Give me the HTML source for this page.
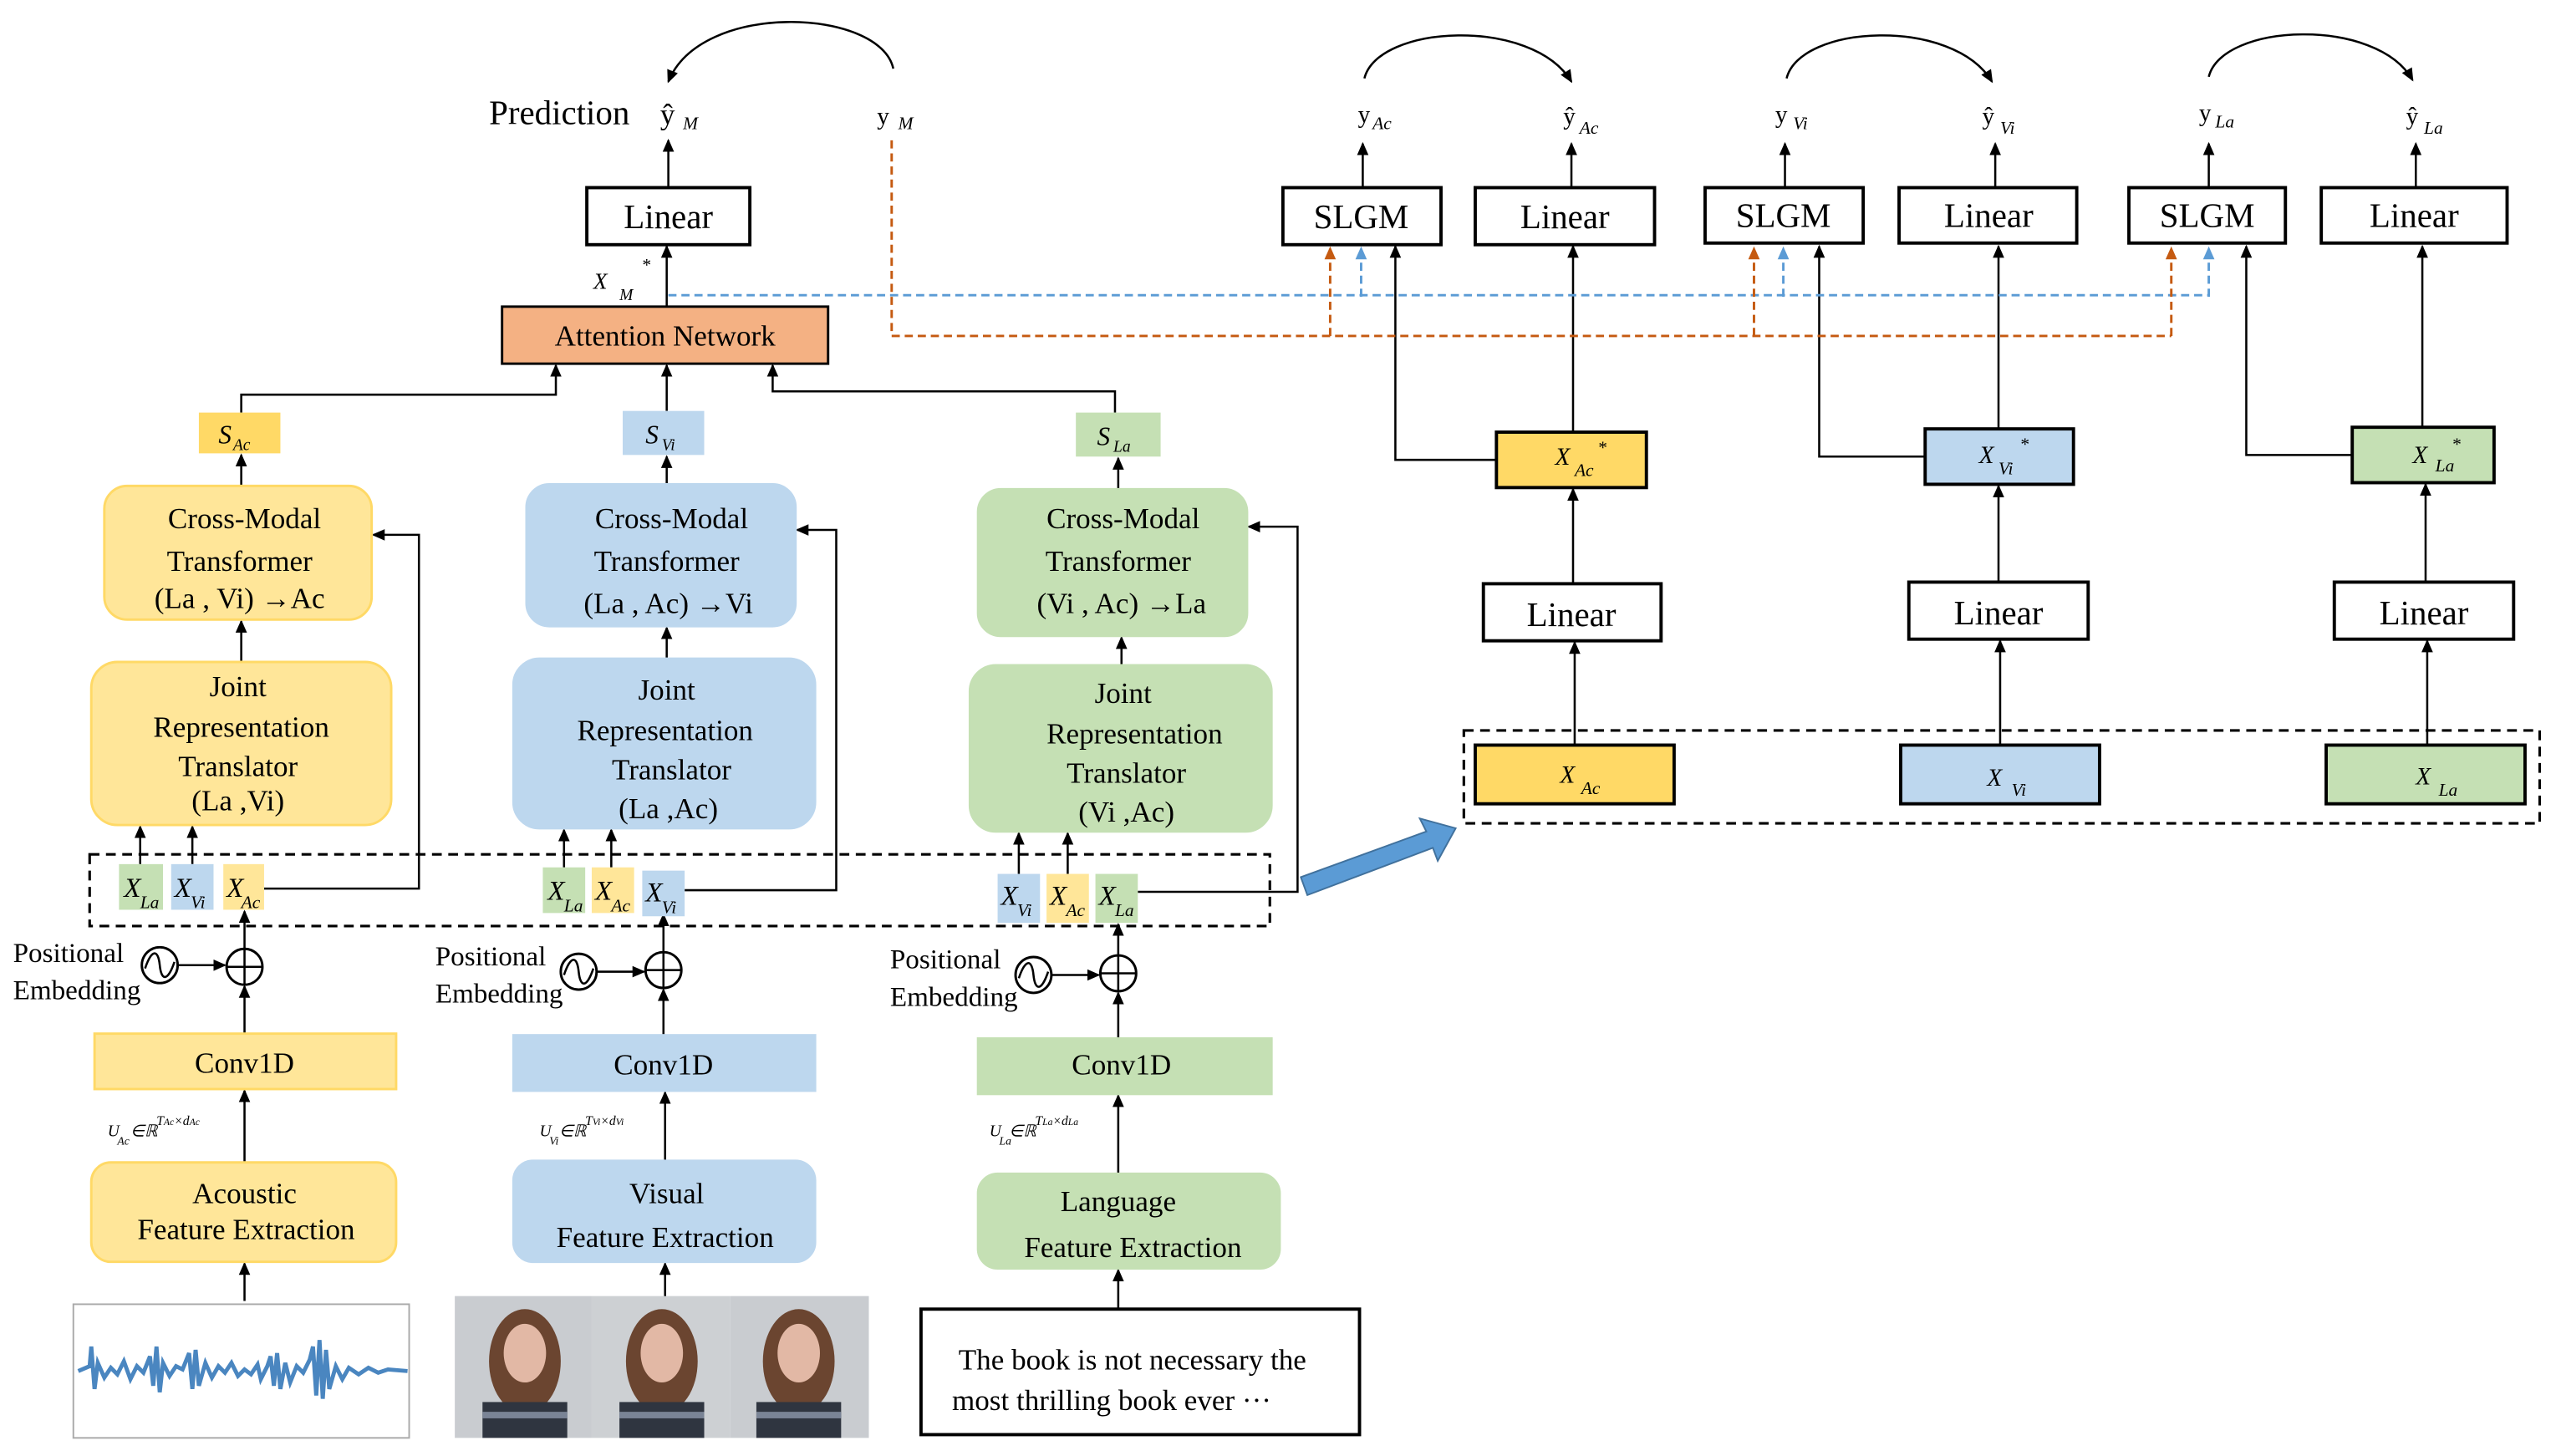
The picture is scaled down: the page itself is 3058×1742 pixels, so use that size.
<!DOCTYPE html>
<html><head><meta charset="utf-8"><style>
html,body{margin:0;padding:0;background:#fff;}
svg{display:block;}
text{font-family:"Liberation Serif",serif;fill:#000;}
</style></head><body>
<svg width="3058" height="1742" viewBox="0 0 1568 893" xmlns="http://www.w3.org/2000/svg">
<defs>
<marker id="a" markerWidth="8" markerHeight="8" refX="7" refY="4" orient="auto" markerUnits="userSpaceOnUse"><path d="M0,0.5 L8,4 L0,7.5 z" fill="#000"/></marker>
<marker id="ao" markerWidth="8" markerHeight="8" refX="7" refY="4" orient="auto" markerUnits="userSpaceOnUse"><path d="M0,0.5 L8,4 L0,7.5 z" fill="#C55A11"/></marker>
<marker id="ab" markerWidth="8" markerHeight="8" refX="7" refY="4" orient="auto" markerUnits="userSpaceOnUse"><path d="M0,0.5 L8,4 L0,7.5 z" fill="#5B9BD5"/></marker>
</defs>
<g stroke="#000" stroke-width="1.3" fill="none" marker-end="url(#a)">
<path d="M548,42 C540,5 430,0 410,50"/>
<path d="M837,48 C845,15 940,10 964,50"/>
<path d="M1096,48 C1104,15 1198,10 1222,50"/>
<path d="M1355,47 C1363,14 1458,10 1480,49"/>
<path d="M410,115 V86"/>
<path d="M409,188 V151"/>
<path d="M836,115 V88"/><path d="M964,115 V88"/>
<path d="M1095,115 V88"/><path d="M1224,115 V88"/>
<path d="M1355,115 V88"/><path d="M1482,115 V88"/>
<path d="M148,253 V242 H341 V224"/>
<path d="M409,252 V224"/>
<path d="M684,253 V240 H474 V224"/>
<path d="M148,298 V279"/><path d="M409,297 V280"/><path d="M686,300 V281"/>
<path d="M148,406 V381"/><path d="M409,404 V385"/><path d="M688,408 V391"/>
<path d="M86,530 V507"/><path d="M118,530 V507"/>
<path d="M346,532 V509"/><path d="M375,532 V509"/>
<path d="M625,536 V511"/><path d="M655,536 V511"/>
<path d="M162,545 H257 V328 H229"/>
<path d="M420,546 H513 V325 H489"/>
<path d="M698,547 H796 V323 H766"/>
<path d="M150,582 V559"/><path d="M407,584 V561"/><path d="M686,586 V567"/>
<path d="M109,592 H138"/><path d="M366,596 H395"/><path d="M645,598 H674"/>
<path d="M150,634 V605"/><path d="M407,635 V607"/><path d="M686,637 V609"/>
<path d="M150,713 V669"/><path d="M408,712 V670"/><path d="M686,720 V672"/>
<path d="M150,798 V775"/><path d="M408,800 V775"/><path d="M686,803 V779"/>
<path d="M918,282 H856 V151"/>
<path d="M1181,280 H1116 V151"/>
<path d="M1443,279 H1378 V151"/>
<path d="M965,265 V151"/><path d="M1226,263 V151"/><path d="M1486,262 V151"/>
<path d="M965,358 V300"/><path d="M1226,357 V298"/><path d="M1488,357 V297"/>
<path d="M966,457 V394"/><path d="M1227,457 V393"/><path d="M1489,457 V393"/>
</g>
<g fill="none" stroke-width="1.5" stroke-dasharray="5,3">
<path d="M410,181 H1355" stroke="#5B9BD5"/>
<path d="M835,182 V152" stroke="#5B9BD5" marker-end="url(#ab)"/>
<path d="M1094,182 V152" stroke="#5B9BD5" marker-end="url(#ab)"/>
<path d="M1355,182 V152" stroke="#5B9BD5" marker-end="url(#ab)"/>
<path d="M547,86 V206 H1332" stroke="#C55A11"/>
<path d="M816,206 V152" stroke="#C55A11" marker-end="url(#ao)"/>
<path d="M1076,206 V152" stroke="#C55A11" marker-end="url(#ao)"/>
<path d="M1332,206 V152" stroke="#C55A11" marker-end="url(#ao)"/>
</g>
<rect x="55" y="524" width="724" height="44" fill="none" stroke="#000" stroke-width="1.6" stroke-dasharray="6,4"/>
<rect x="898" y="448" width="660" height="57" fill="none" stroke="#000" stroke-width="1.6" stroke-dasharray="6,4"/>
<path d="M798,538 L875,510 L871,502 L893,508 L882,528 L879,520 L802,549 z" fill="#5B9BD5" stroke="#41719C" stroke-width="1"/>
<text x="300" y="76" font-size="21">Prediction</text>
<text x="405" y="76" font-size="18">ŷ</text><text x="419" y="79" font-size="11" font-style="italic">M</text>
<text x="538" y="76" font-size="15">y</text><text x="551" y="79" font-size="11" font-style="italic">M</text>
<text x="364" y="177" font-size="14" font-style="italic">X</text><text x="380" y="184" font-size="10" font-style="italic">M</text><text x="394" y="166" font-size="11">*</text>
<g font-size="15"><text x="833" y="75">y</text><text x="842" y="79" font-size="11" font-style="italic">Ac</text>
<text x="959" y="76">ŷ</text><text x="969" y="82" font-size="11" font-style="italic">Ac</text>
<text x="1089" y="75">y</text><text x="1100" y="79" font-size="11" font-style="italic">Vi</text>
<text x="1216" y="76">ŷ</text><text x="1227" y="82" font-size="11" font-style="italic">Vi</text>
<text x="1349" y="74">y</text><text x="1359" y="78" font-size="11" font-style="italic">La</text>
<text x="1476" y="76">ŷ</text><text x="1487" y="82" font-size="11" font-style="italic">La</text></g>
<g stroke="#000" stroke-width="2" fill="#fff">
<rect x="360" y="115" width="100" height="35"/>
<rect x="787" y="115" width="97" height="35"/><rect x="905" y="115" width="110" height="35"/>
<rect x="1046" y="115" width="97" height="34"/><rect x="1165" y="115" width="109" height="34"/>
<rect x="1306" y="115" width="96" height="34"/><rect x="1424" y="115" width="114" height="34"/>
<rect x="910" y="358" width="109" height="35"/><rect x="1171" y="357" width="110" height="35"/><rect x="1432" y="357" width="110" height="35"/>
<rect x="918" y="265" width="92" height="34" fill="#FFD966"/>
<rect x="1181" y="263" width="91" height="34" fill="#BDD7EE"/>
<rect x="1443" y="262" width="87" height="34" fill="#C5E0B4"/>
<rect x="905" y="457" width="122" height="36" fill="#FFD966"/>
<rect x="1166" y="457" width="122" height="36" fill="#BDD7EE"/>
<rect x="1427" y="457" width="122" height="36" fill="#C5E0B4"/>
</g>
<rect x="308" y="188" width="200" height="35" fill="#F4B183" stroke="#000" stroke-width="1.5"/>
<g font-size="21" text-anchor="middle">
<text x="410" y="140">Linear</text>
<text x="835" y="140">SLGM</text><text x="960" y="140">Linear</text>
<text x="1094" y="139">SLGM</text><text x="1220" y="139">Linear</text>
<text x="1354" y="139">SLGM</text><text x="1481" y="139">Linear</text>
<text x="964" y="384">Linear</text><text x="1226" y="383">Linear</text><text x="1487" y="383">Linear</text>
</g>
<text x="408" y="212" font-size="18" text-anchor="middle">Attention Network</text>
<g font-style="italic">
<text x="954" y="285" font-size="15">X</text><text x="966" y="292" font-size="11">Ac</text><text x="980" y="278" font-size="11">*</text>
<text x="1214" y="284" font-size="15">X</text><text x="1226" y="291" font-size="11">Vi</text><text x="1239" y="276" font-size="11">*</text>
<text x="1480" y="284" font-size="15">X</text><text x="1494" y="289" font-size="11">La</text><text x="1504" y="276" font-size="11">*</text>
<text x="957" y="480" font-size="15">X</text><text x="970" y="487" font-size="11">Ac</text>
<text x="1219" y="482" font-size="15">X</text><text x="1234" y="488" font-size="11">Vi</text>
<text x="1482" y="481" font-size="15">X</text><text x="1496" y="488" font-size="11">La</text>
</g>
<rect x="122" y="253" width="50" height="25" fill="#FFD966"/>
<rect x="382" y="252" width="50" height="27" fill="#BDD7EE"/>
<rect x="660" y="253" width="52" height="27" fill="#C5E0B4"/>
<g font-style="italic"><text x="134" y="272" font-size="16">S</text><text x="143" y="276" font-size="10">Ac</text>
<text x="396" y="272" font-size="16">S</text><text x="406" y="276" font-size="10">Vi</text>
<text x="673" y="273" font-size="16">S</text><text x="683" y="277" font-size="10">La</text></g>
<g stroke-width="1.5">
<rect x="64" y="298" width="164" height="82" rx="14" fill="#FFE699" stroke="#FFD966"/>
<rect x="323" y="297" width="165" height="87" rx="14" fill="#BDD7EE" stroke="#BDD7EE"/>
<rect x="600" y="300" width="165" height="90" rx="14" fill="#C5E0B4" stroke="#C5E0B4"/>
<rect x="56" y="406" width="184" height="100" rx="16" fill="#FFE699" stroke="#FFD966"/>
<rect x="315" y="404" width="185" height="104" rx="16" fill="#BDD7EE" stroke="#BDD7EE"/>
<rect x="595" y="408" width="185" height="102" rx="16" fill="#C5E0B4" stroke="#C5E0B4"/>
<rect x="58" y="634" width="185" height="34" fill="#FFE699" stroke="#FFD966"/>
<rect x="315" y="635" width="185" height="34" fill="#BDD7EE" stroke="#BDD7EE"/>
<rect x="600" y="637" width="180" height="34" fill="#C5E0B4" stroke="#C5E0B4"/>
<rect x="56" y="713" width="187" height="61" rx="12" fill="#FFE699" stroke="#FFD966"/>
<rect x="315" y="712" width="185" height="62" rx="12" fill="#BDD7EE" stroke="#BDD7EE"/>
<rect x="600" y="720" width="185" height="58" rx="12" fill="#C5E0B4" stroke="#C5E0B4"/>
</g>
<g font-size="18" text-anchor="middle">
<text x="150" y="324">Cross-Modal</text><text x="147" y="350">Transformer</text><text x="147" y="373">(La , Vi) →Ac</text>
<text x="412" y="324">Cross-Modal</text><text x="409" y="350">Transformer</text><text x="410" y="376">(La , Ac) →Vi</text>
<text x="689" y="324">Cross-Modal</text><text x="686" y="350">Transformer</text><text x="688" y="376">(Vi , Ac) →La</text>
<text x="146" y="427">Joint</text><text x="148" y="452">Representation</text><text x="146" y="476">Translator</text><text x="146" y="497">(La ,Vi)</text>
<text x="409" y="429">Joint</text><text x="408" y="454">Representation</text><text x="412" y="478">Translator</text><text x="410" y="502">(La ,Ac)</text>
<text x="689" y="431">Joint</text><text x="696" y="456">Representation</text><text x="691" y="480">Translator</text><text x="691" y="504">(Vi ,Ac)</text>
<text x="150" y="658">Conv1D</text><text x="407" y="659">Conv1D</text><text x="688" y="659">Conv1D</text>
<text x="150" y="738">Acoustic</text><text x="151" y="760">Feature Extraction</text>
<text x="409" y="738">Visual</text><text x="408" y="765">Feature Extraction</text>
<text x="686" y="743">Language</text><text x="695" y="771">Feature Extraction</text>
</g>
<g>
<rect x="73" y="530" width="27" height="28" fill="#C5E0B4"/><rect x="105" y="530" width="26" height="28" fill="#BDD7EE"/><rect x="137" y="530" width="25" height="28" fill="#FFE699"/>
<rect x="333" y="532" width="26" height="28" fill="#C5E0B4"/><rect x="363" y="532" width="26" height="28" fill="#FFE699"/><rect x="394" y="534" width="26" height="28" fill="#BDD7EE"/>
<rect x="612" y="536" width="26" height="30" fill="#BDD7EE"/><rect x="642" y="536" width="26" height="30" fill="#FFE699"/><rect x="672" y="536" width="26" height="30" fill="#C5E0B4"/>
</g>
<g font-style="italic">
<text x="76" y="550" font-size="17">X</text><text x="86" y="557" font-size="11">La</text>
<text x="107" y="550" font-size="17">X</text><text x="117" y="557" font-size="11">Vi</text>
<text x="139" y="550" font-size="17">X</text><text x="148" y="557" font-size="11">Ac</text>
<text x="336" y="552" font-size="17">X</text><text x="346" y="559" font-size="11">La</text>
<text x="365" y="552" font-size="17">X</text><text x="375" y="559" font-size="11">Ac</text>
<text x="396" y="553" font-size="17">X</text><text x="406" y="560" font-size="11">Vi</text>
<text x="614" y="555" font-size="17">X</text><text x="624" y="562" font-size="11">Vi</text>
<text x="644" y="555" font-size="17">X</text><text x="654" y="562" font-size="11">Ac</text>
<text x="674" y="555" font-size="17">X</text><text x="684" y="562" font-size="11">La</text>
</g>
<g font-size="17"><text x="8" y="590">Positional</text><text x="8" y="613">Embedding</text>
<text x="267" y="592">Positional</text><text x="267" y="615">Embedding</text>
<text x="546" y="594">Positional</text><text x="546" y="617">Embedding</text></g>
<g stroke="#000" stroke-width="1.5" fill="#fff">
<circle cx="98" cy="592" r="11"/><circle cx="355" cy="596" r="11"/><circle cx="634" cy="598" r="11"/>
<circle cx="150" cy="593" r="11"/><circle cx="407" cy="595" r="11"/><circle cx="686" cy="597" r="11"/>
</g>
<g stroke="#000" stroke-width="1.3" fill="none">
<path d="M89,594 C93,582 97,582 98,592 C99,602 103,602 107,590"/>
<path d="M346,598 C350,586 354,586 355,596 C356,606 360,606 364,594"/>
<path d="M625,600 C629,588 633,588 634,598 C635,608 639,608 643,596"/>
<path d="M139,593 H161 M150,582 V604"/><path d="M396,595 H418 M407,584 V606"/><path d="M675,597 H697 M686,586 V608"/>
</g>
<g font-style="italic" font-size="10">
<text x="66" y="697">U</text><text x="72" y="702" font-size="7">Ac</text><text x="80" y="697">∈ℝ</text><text x="96" y="690" font-size="8">T<tspan font-size="6">Ac</tspan>×d<tspan font-size="6">Ac</tspan></text>
<text x="331" y="697">U</text><text x="337" y="702" font-size="7">Vi</text><text x="343" y="697">∈ℝ</text><text x="359" y="690" font-size="8">T<tspan font-size="6">Vi</tspan>×d<tspan font-size="6">Vi</tspan></text>
<text x="607" y="697">U</text><text x="613" y="702" font-size="7">La</text><text x="619" y="697">∈ℝ</text><text x="635" y="690" font-size="8">T<tspan font-size="6">La</tspan>×d<tspan font-size="6">La</tspan></text>
</g>
<rect x="45" y="800" width="206" height="82" fill="#fff" stroke="#aaa" stroke-width="1"/>
<path d="M48,841 L55,838 L56,826 L58,852 L60,836 L64,845 L68,839 L72,843 L76,835 L80,846 L84,838 L88,842 L92,832 L94,850 L96,826 L98,854 L100,836 L104,844 L108,838 L112,840 L116,830 L118,852 L120,828 L122,850 L126,836 L130,845 L134,838 L138,842 L142,836 L146,844 L150,840 L154,843 L158,837 L160,846 L164,838 L166,832 L168,850 L170,830 L172,852 L175,836 L178,848 L182,838 L186,842 L190,834 L192,826 L194,856 L196,822 L198,858 L200,828 L202,852 L206,838 L210,846 L214,839 L220,843 L226,839 L232,842 L238,840 L250,841" fill="none" stroke="#4A86C0" stroke-width="2.5"/>
<g>
<rect x="279" y="795" width="84" height="87" fill="#c9ccd0"/><rect x="363" y="795" width="85" height="87" fill="#cdd0d3"/><rect x="448" y="795" width="85" height="87" fill="#c9ccd0"/>
<g fill="#6b4530"><ellipse cx="322" cy="835" rx="22" ry="32"/><ellipse cx="406" cy="835" rx="22" ry="32"/><ellipse cx="490" cy="835" rx="22" ry="32"/></g>
<g fill="#e2b8a5"><ellipse cx="322" cy="830" rx="13" ry="18"/><ellipse cx="406" cy="830" rx="13" ry="18"/><ellipse cx="490" cy="830" rx="13" ry="18"/></g>
<g fill="#2f3540"><rect x="296" y="860" width="52" height="22"/><rect x="380" y="860" width="52" height="22"/><rect x="464" y="860" width="52" height="22"/></g>
<g fill="#7a8496"><rect x="296" y="866" width="52" height="4"/><rect x="380" y="866" width="52" height="4"/><rect x="464" y="866" width="52" height="4"/></g>
</g>
<rect x="565" y="803" width="269" height="77" fill="#fff" stroke="#000" stroke-width="2"/>
<text x="588" y="840" font-size="18">The book is not necessary the</text>
<text x="584" y="865" font-size="18">most thrilling book ever ···</text>
</svg>
</body></html>
